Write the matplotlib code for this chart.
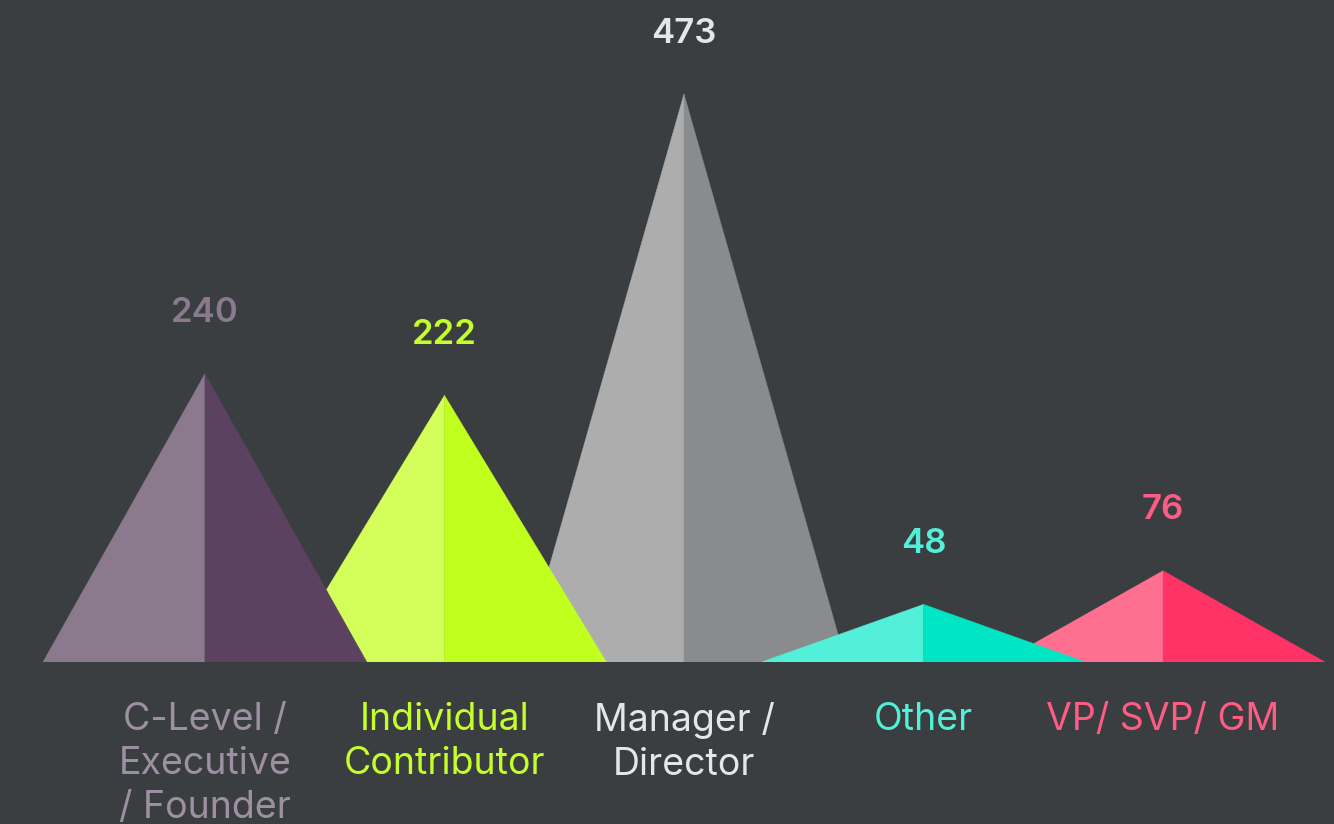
import matplotlib.pyplot as plt
from matplotlib.patches import Polygon

plt.rcParams['font.family'] = ['Inter', 'DejaVu Sans']

categories = ["C-Level /\nExecutive\n/ Founder", "Individual\nContributor",
              "Manager /\nDirector", "Other", "VP/ SVP/ GM"]
counts = [240, 222, 473, 48, 76]
light = ["#8b7a8e", "#d4ff5a", "#acadac", "#52efd9", "#ff6f90"]
dark = ["#5a4260", "#c0ff1e", "#8a8b8c", "#00e5c3", "#ff3366"]
label_colors = ["#9e90a3", "#c5ff2a", "#e6e6e6", "#52efd9", "#ff5c85"]
value_colors = ["#8b7a8e", "#c5ff2a", "#e6e6e6", "#52efd9", "#ff5c85"]
layer = [5, 4, 1, 3, 2]

bg = "#3b3e40"
half = 0.676

fig = plt.figure(figsize=(13.34, 8.24), dpi=100, facecolor=bg)
ax = fig.add_axes([43 / 1334, 162 / 824, 1282 / 1334, 568 / 824])
ax.set_facecolor(bg)
ax.set_xlim(-half, len(counts) - 1 + half)
ax.set_ylim(0, max(counts))
ax.axis("off")

for i, v in enumerate(counts):
    left = Polygon([(i - half, 0), (i, v), (i, 0)], closed=True,
                   facecolor=light[i], edgecolor=light[i], lw=0.3, zorder=layer[i])
    right = Polygon([(i, 0), (i, v), (i + half, 0)], closed=True,
                    facecolor=dark[i], edgecolor=dark[i], lw=0.3, zorder=layer[i])
    ax.add_patch(left)
    ax.add_patch(right)
    ax.annotate(str(v), xy=(i, v), xytext=(0, 32), textcoords="offset points",
                ha="center", va="bottom", fontsize=25, fontweight="semibold",
                color=value_colors[i], annotation_clip=False)
    ax.annotate(categories[i], xy=(i, 0), xytext=(0, -29), textcoords="offset points",
                ha="center", va="top", fontsize=27, linespacing=1.28,
                color=label_colors[i], annotation_clip=False)

fig.savefig("out.png", dpi=100, facecolor=bg)
